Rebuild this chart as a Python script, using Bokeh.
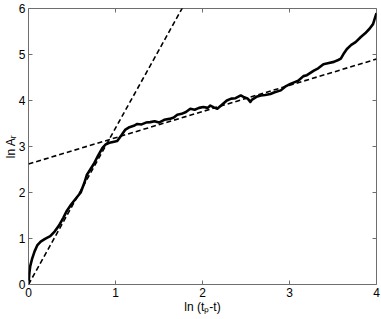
import numpy as np
from bokeh.plotting import figure
from bokeh.models import Range1d, LinearAxis, FixedTicker, GlobalInlineStyleSheet
from bokeh.embed import file_html
from bokeh.resources import INLINE

# measured curve ln A_r vs ln(t_p - t)
x_data = [0.00, 0.01, 0.02, 0.04, 0.07, 0.10, 0.14, 0.19, 0.25, 0.30, 0.35, 0.40,
          0.44, 0.49, 0.54, 0.60, 0.64, 0.67, 0.71, 0.75, 0.80, 0.85, 0.89, 0.93,
          0.97, 1.02, 1.07, 1.11, 1.16, 1.21, 1.25, 1.30, 1.35, 1.40, 1.45, 1.50,
          1.56, 1.62, 1.67, 1.71, 1.76, 1.81, 1.86, 1.91, 1.96, 2.01, 2.06, 2.09,
          2.13, 2.17, 2.22, 2.28, 2.33, 2.38, 2.44, 2.48, 2.52, 2.55, 2.57, 2.62,
          2.67, 2.72, 2.78, 2.83, 2.90, 2.95, 3.01, 3.06, 3.10, 3.16, 3.20, 3.24,
          3.28, 3.33, 3.39, 3.44, 3.51, 3.56, 3.59, 3.62, 3.66, 3.71, 3.76, 3.82,
          3.87, 3.92, 3.96, 4.00]
y_data = [0.00, 0.25, 0.40, 0.55, 0.72, 0.85, 0.93, 0.99, 1.05, 1.15, 1.28, 1.45,
          1.60, 1.74, 1.86, 2.00, 2.20, 2.38, 2.50, 2.62, 2.80, 2.97, 3.05, 3.08,
          3.10, 3.12, 3.25, 3.36, 3.42, 3.45, 3.49, 3.48, 3.52, 3.53, 3.55, 3.52,
          3.58, 3.60, 3.63, 3.69, 3.71, 3.75, 3.82, 3.80, 3.84, 3.86, 3.84, 3.89,
          3.85, 3.82, 3.90, 4.00, 4.04, 4.05, 4.11, 4.07, 4.04, 3.97, 4.02, 4.08,
          4.11, 4.12, 4.14, 4.18, 4.22, 4.30, 4.36, 4.40, 4.43, 4.53, 4.55, 4.60,
          4.65, 4.70, 4.79, 4.81, 4.84, 4.88, 4.91, 5.01, 5.12, 5.21, 5.27, 5.38,
          5.46, 5.56, 5.66, 5.90]

# fitted straight lines: intercept, slope
fit_intercepts = [0.0, 2.62]
fit_slopes = [3.40, 0.57]

x_ticks = [0, 1, 2, 3, 4]
y_ticks = [0, 1, 2, 3, 4, 5, 6]

x_title = "ln (t\u209a-t)"
y_title = "ln A\u1d63"

FONT = "Liberation Sans"
FRAME = "#6e6e6e"

p = figure(width=381, height=319, output_backend="svg", toolbar_location=None,
           x_range=Range1d(0, 4), y_range=Range1d(0, 6),
           min_border_left=28, min_border_right=5, min_border_top=8,
           min_border_bottom=35, x_axis_location=None, y_axis_location=None)
p.stylesheets = [GlobalInlineStyleSheet(css="html, body { margin: 0; padding: 0; }")]
p.grid.visible = False
p.outline_line_color = FRAME
p.outline_line_width = 1
p.background_fill_color = "white"
p.border_fill_color = "white"

def mk_axis(ticks):
    a = LinearAxis(ticker=FixedTicker(ticks=ticks))
    a.axis_line_color = None
    a.major_tick_in = 4
    a.major_tick_out = 0
    a.major_tick_line_color = FRAME
    a.minor_tick_line_color = None
    a.major_label_text_font = FONT
    a.major_label_text_color = "black"
    a.major_label_text_font_size = "12px"
    a.major_label_standoff = 3
    a.axis_label_text_font = FONT
    a.axis_label_text_font_style = "normal"
    a.axis_label_text_font_size = "12px"
    a.axis_label_text_color = "black"
    return a

ax_b = mk_axis(x_ticks)
ax_b.axis_label = x_title
ax_b.axis_label_standoff = 0
ax_l = mk_axis(y_ticks)
ax_l.axis_label = y_title
ax_l.axis_label_standoff = -2
ax_l.major_label_standoff = 3
p.add_layout(ax_b, "below")
p.add_layout(ax_l, "left")

# mirrored inward ticks on the top and right edges of the box
p.scatter(x_ticks, [6] * len(x_ticks), marker="dash", size=8, angle=np.pi / 2,
          line_color=FRAME, line_width=1)
p.scatter([4] * len(y_ticks), y_ticks, marker="dash", size=8,
          line_color=FRAME, line_width=1)

# fitted dashed lines
xs_fit = np.array([0.0, 4.0])
for a0, b0 in zip(fit_intercepts, fit_slopes):
    p.line(xs_fit, a0 + b0 * xs_fit, line_color="black", line_width=1.6,
           line_dash="5 3")

# data curve
p.line(x_data, y_data, line_color="black", line_width=2.6, line_join="round")

open("out.html", "w").write(file_html(p, INLINE))
